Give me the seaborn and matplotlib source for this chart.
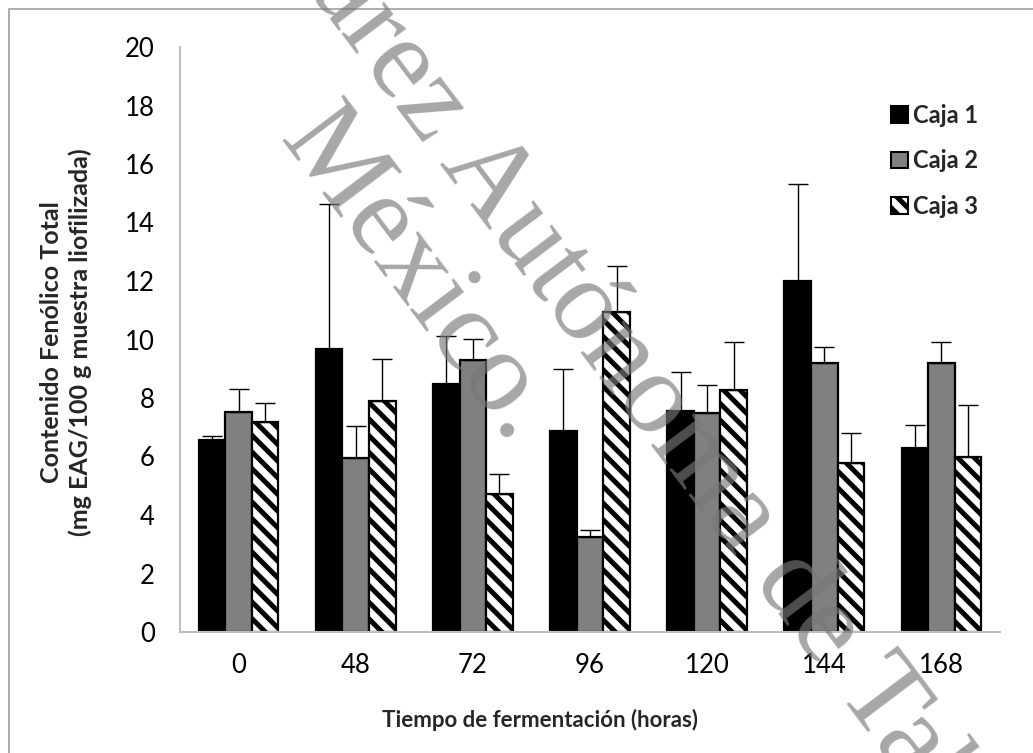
import numpy as np
import pandas as pd
import seaborn as sns
import matplotlib
matplotlib.use("Agg")
import matplotlib.pyplot as plt
from matplotlib.patches import Patch, Rectangle

# ---------------- data ----------------
tiempos = ["0", "48", "72", "96", "120", "144", "168"]
series = ["Caja 1", "Caja 2", "Caja 3"]
caja1 = [6.56, 9.69, 8.47, 6.88, 7.57, 12.01, 6.30]
caja2 = [7.51, 5.95, 9.31, 3.25, 7.48, 9.20, 9.20]
caja3 = [7.18, 7.90, 4.72, 10.95, 8.27, 5.79, 5.99]
err1 = [0.15, 4.94, 1.64, 2.10, 1.31, 3.31, 0.78]
err2 = [0.81, 1.10, 0.72, 0.25, 0.98, 0.53, 0.71]
err3 = [0.65, 1.42, 0.67, 1.56, 1.64, 1.03, 1.76]
y_ticks = [0, 2, 4, 6, 8, 10, 12, 14, 16, 18, 20]
ylabel = "Contenido Fenólico Total\n(mg EAG/100 g muestra liofilizada)"
xlabel = "Tiempo de fermentación (horas)"
watermark_1 = "Universidad Juárez Autónoma de Tabasco."
watermark_2 = "México."

colors = ["#000000", "#808080", "#ffffff"]
values = [caja1, caja2, caja3]
errors = [err1, err2, err3]

df = pd.DataFrame({
    "tiempo": tiempos * 3,
    "caja": [s for s in series for _ in tiempos],
    "valor": caja1 + caja2 + caja3,
})

sns.set_theme(style="white")
plt.rcParams["font.family"] = ["Lato", "DejaVu Sans"]
plt.rcParams["hatch.linewidth"] = 3.6

fig = plt.figure(figsize=(10.33, 7.53), dpi=100)
ax = fig.add_axes([180 / 1033, 1 - 632 / 753, (1000 - 180) / 1033, (632 - 47) / 753])

sns.barplot(data=df, x="tiempo", y="valor", hue="caja", order=tiempos,
            hue_order=series, palette=colors, width=0.68, gap=0,
            errorbar=None, edgecolor="black", linewidth=1.6, ax=ax,
            legend=False, saturation=1)

bar_containers = list(ax.containers)
for i, cont in enumerate(bar_containers):
    bars = list(cont)
    xs = [b.get_x() + b.get_width() / 2 for b in bars]
    ys = [b.get_height() for b in bars]
    if i == 2:
        for b in bars:
            b.set_hatch("\\\\")
    ax.errorbar(xs, ys, yerr=[np.zeros(len(ys)), errors[i]], fmt="none",
                ecolor="black", elinewidth=1.0, capsize=7, capthick=1.0, zorder=1.5)

ax.set_ylim(0, 20)
ax.set_xlim(-0.5, len(tiempos) - 0.5)
ax.set_yticks(y_ticks)
ax.set_yticklabels([str(v) for v in y_ticks], fontsize=18.5, color="black")
ax.set_xticks(range(len(tiempos)))
ax.set_xticklabels(tiempos, fontsize=18.5, color="black")
ax.set_xticks(np.arange(-0.5, len(tiempos), 1.0), minor=True)
ax.tick_params(axis="x", which="major", length=0, pad=15)
ax.tick_params(axis="x", which="minor", length=6, width=1.2, color="#c0c0c0", direction="out")
ax.tick_params(axis="y", which="major", length=6, width=1.2, color="#c0c0c0", direction="out", pad=12)
ax.set_xlabel("")
ax.set_ylabel("")

for s in ["top", "right"]:
    ax.spines[s].set_visible(False)
for s in ["left", "bottom"]:
    ax.spines[s].set_color("#c0c0c0")
    ax.spines[s].set_linewidth(1.5)

fig.text(540 / 1033, 1 - 720 / 753, xlabel, ha="center", va="center",
         fontsize=16, fontweight="bold")
fig.text(66 / 1033, 1 - 342 / 753, ylabel, ha="center", va="center",
         rotation=90, fontsize=18, fontweight="bold", linespacing=1.3,
         multialignment="center")

handles = [Patch(facecolor=colors[i], edgecolor="black", linewidth=1.5,
                 hatch=("\\\\" if i == 2 else None), label=series[i]) for i in range(3)]
ax.legend(handles=handles, loc="upper left", bbox_to_anchor=(891 / 1033, 1 - 104 / 753),
          bbox_transform=fig.transFigure, frameon=False, prop={"weight": "bold", "size": 17},
          handlelength=0.7, handleheight=0.7, handletextpad=0.25, labelspacing=0.95,
          borderpad=0, borderaxespad=0)

# figure frame
fig.patches.append(Rectangle((9 / 1033, -0.1), 1.2, 1.1 - 9 / 753, transform=fig.transFigure,
                             fill=False, edgecolor="#a0a0a0", linewidth=1.2))

# watermark (two lines, rotated)
wm_style = dict(ha="center", va="center", rotation=-53, rotation_mode="anchor",
                fontsize=84, family="Liberation Serif", color="#787878", alpha=0.65,
                zorder=10)
fig.text(505 / 1033, 1 - 206 / 753, watermark_1, **wm_style)
fig.text(417 / 1033, 1 - 277 / 753, watermark_2, **wm_style)

fig.savefig("out.png", dpi=100)
